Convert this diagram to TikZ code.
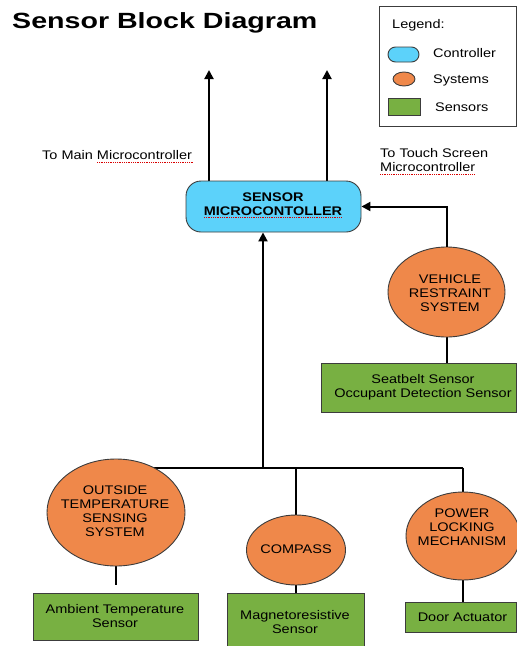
\documentclass[tikz,border=0pt]{standalone}
\usepackage{fontspec}
\setmainfont{Liberation Sans}[FakeStretch=1.16]
\newfontfamily\titlefont{Liberation Sans}[FakeStretch=1.3]
\usetikzlibrary{shapes.geometric,arrows.meta,backgrounds}
\definecolor{ctrlblue}{RGB}{92,210,250}
\definecolor{sysorange}{RGB}{239,136,74}
\definecolor{sensgreen}{RGB}{120,176,66}
\definecolor{edgegray}{RGB}{60,60,60}
\begin{document}
\begin{tikzpicture}[x=1pt,y=-1pt,
  txt/.style={font=\fontsize{12.5}{14}\selectfont, align=center, inner sep=0pt},
  ltxt/.style={font=\fontsize{12.5}{14}\selectfont, align=left, inner sep=0pt},
  ctrlbox/.style={rectangle, draw=edgegray, line width=0.9pt, fill=ctrlblue, rounded corners=15pt,
    minimum width=175pt, minimum height=51pt, inner sep=0pt},
  sysell/.style={ellipse, draw=edgegray, line width=0.9pt, fill=sysorange, inner sep=0pt},
  sensbox/.style={rectangle, draw=edgegray, line width=0.9pt, fill=sensgreen, inner sep=0pt},
  conn/.style={line width=2pt, black},
  arr/.style={conn, -{Triangle[length=9pt,width=9pt]}},
  spell/.style={red!85!black, line width=0.8pt, densely dotted}
]
\useasboundingbox (0,0) rectangle (517,646);

% title
\node[font=\titlefont\bfseries\fontsize{22}{26}\selectfont, anchor=base west, inner sep=0pt] (title) at (12,28.5) {Sensor Block Diagram};

% legend
\node[draw=edgegray, line width=0.9pt, minimum width=137pt, minimum height=120pt, inner sep=0pt] (legbox) at (447.5,66) {};
\node[ltxt, anchor=base west] (legT) at (392,28) {Legend:};
\node[ctrlbox, rounded corners=7.5pt, minimum width=31pt, minimum height=15pt] (legC) at (403.5,54.5) {};
\node[ltxt, anchor=base west] (legCt) at (433,57) {Controller};
\node[sysell, minimum width=22pt, minimum height=14pt] (legS) at (404,79) {};
\node[ltxt, anchor=base west] (legSt) at (433,83.5) {Systems};
\node[sensbox, minimum width=32pt, minimum height=17pt] (legN) at (404,106.5) {};
\node[ltxt, anchor=base west] (legNt) at (435,111) {Sensors};

% controller
\node[ctrlbox] (ctrl) at (273.5,206.5) {};
\node[txt, font=\bfseries\fontsize{12.5}{14}\selectfont] (ctrlT) at (273,204.5) {SENSOR\\MICROCONTOLLER};

% outputs
\coordinate (mainTip) at (209,70);
\coordinate (touchTip) at (327,70);
\node[ltxt, anchor=base west] (mainT) at (42,159) {To Main Microcontroller};
\node[ltxt, anchor=west] (touchT) at (380,160) {To Touch Screen\\Microcontroller};

% vehicle restraint
\node[sysell, minimum width=117pt, minimum height=90pt] (vrs) at (446.5,292) {};
\node[txt] (vrsT) at (450,293) {VEHICLE\\RESTRAINT\\SYSTEM};
\node[sensbox, minimum width=195pt, minimum height=49pt] (seat) at (418.5,387.5) {};
\node[txt] (seatT) at (423,387.5) {Seatbelt Sensor\\Occupant Detection Sensor};

% outside temperature
\node[sysell, minimum width=138pt, minimum height=107pt] (ots) at (116,512.5) {};
\node[txt] (otsT) at (115,511.5) {OUTSIDE\\TEMPERATURE\\SENSING\\SYSTEM};
\node[sensbox, minimum width=165pt, minimum height=47pt] (amb) at (115.5,616.5) {};
\node[txt] (ambT) at (115,616) {Ambient Temperature\\Sensor};
\coordinate (ambGap) at (116,585);

% compass
\node[sysell, minimum width=99pt, minimum height=70pt] (cmp) at (296,550) {};
\node[txt] (cmpT) at (296,549) {COMPASS};
\node[sensbox, minimum width=137pt, minimum height=62pt] (mag) at (295.5,624) {};
\node[txt] (magT) at (295,622) {Magnetoresistive\\Sensor};

% power locking
\node[sysell, minimum width=114pt, minimum height=88pt] (plm) at (463,536) {};
\node[txt] (plmT) at (462,527.5) {POWER\\LOCKING\\MECHANISM};
\node[sensbox, minimum width=111pt, minimum height=30pt] (door) at (460.5,617) {};
\node[txt] (doorT) at (462.5,617.5) {Door Actuator};

% bus coordinates
\coordinate (busL) at (150,467.5);
\coordinate (busR) at (463,467.5);
\coordinate (busC) at (263,467.5);
\coordinate (busM) at (296,467.5);

\begin{scope}[on background layer]
  \draw[arr] (ctrl.north -| mainTip) -- (mainTip);
  \draw[arr] (ctrl.north -| touchTip) -- (touchTip);
  \draw[conn] (busL) -- (busR);
  \draw[arr] (busC) -- (busC |- ctrl.south);
  \draw[conn] (busM) -- (cmp.north);
  \draw[conn] (busR) -- (plm.north);
  \draw[conn] (plm.south) -- (plm.south |- door.north);
  \draw[conn] (cmp.south) -- (cmp.south |- mag.north);
  \draw[conn] (ots.south) -- (ambGap);
  \draw[conn] (vrs.south) -- (vrs.south |- seat.north);
\end{scope}
\draw[arr] (vrs.north) |- (ctrl.east);

% spell-check underlines
\draw[spell] (97,162.5) -- (193,162.5);
\draw[spell] (380,174.5) -- (475,174.5);
\draw[spell] (204,217.5) -- (342,217.5);
\end{tikzpicture}
\end{document}
